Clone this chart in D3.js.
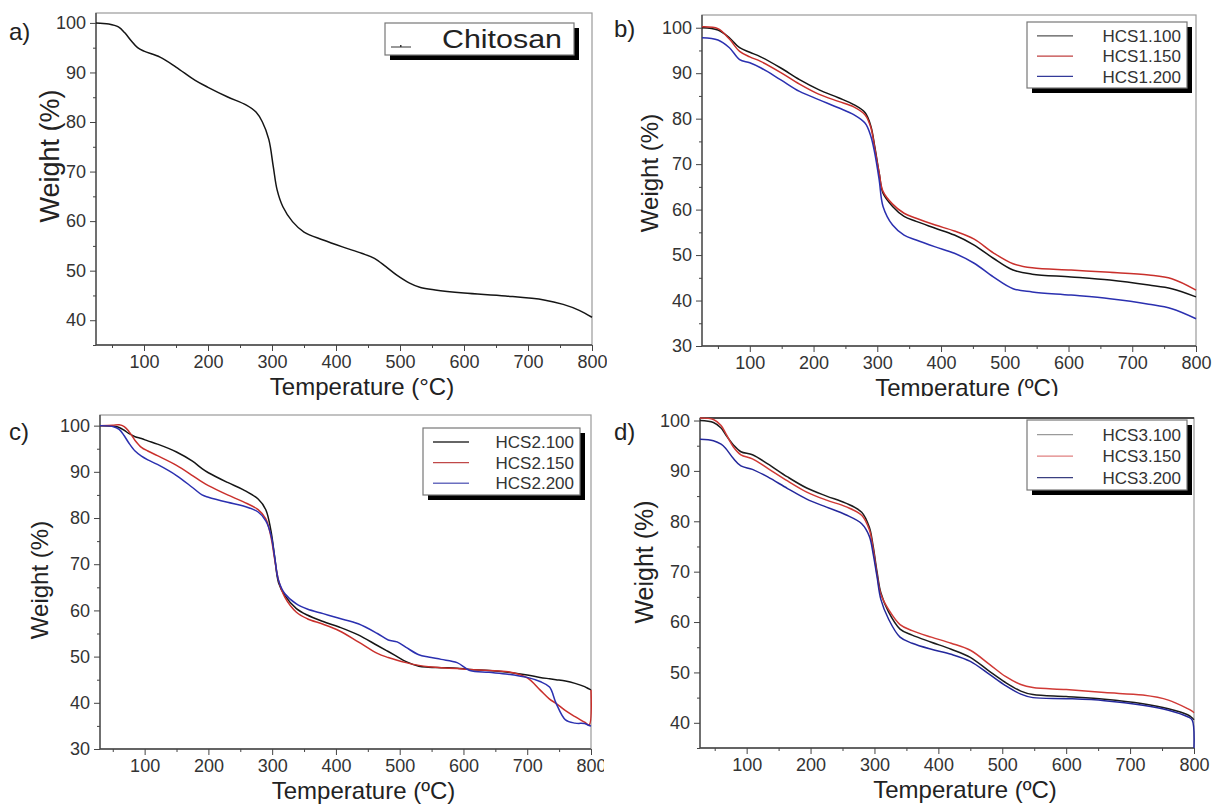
<!DOCTYPE html>
<html lang="en">
<head>
<meta charset="UTF-8">
<title>TGA curves</title>
<script src="https://d3js.org/d3.v7.min.js"></script>
<style>
  body { margin: 0; background: #fff; }
  text { font-family: "Liberation Sans", Arial, sans-serif; fill: #222; }
  .tick text { font-size: 18px; fill: #333; }
  .tick line { stroke: #444; }
</style>
</head>
<body>
<div id="chart"></div>
<script>
// ---- data ----
const xMajor = [100, 200, 300, 400, 500, 600, 700, 800];
const xMinor = [50, 150, 250, 350, 450, 550, 650, 750];

// a) chitosan
const tempA = [25, 45, 60, 70, 80, 90, 100, 125, 150, 180, 200, 230, 260, 275, 285, 295, 302, 308, 317, 332, 350, 380, 410, 440, 460, 478, 495, 515, 532, 555, 600, 665, 725, 755, 780, 800];
const chitosan = [100, 99.8, 99.2, 98.0, 96.4, 95.0, 94.3, 93.1, 91.1, 88.4, 87.0, 85.1, 83.4, 82.0, 80.0, 76.5, 71.0, 66.3, 62.9, 59.9, 57.8, 56.2, 54.8, 53.5, 52.5, 50.8, 49.1, 47.5, 46.6, 46.1, 45.5, 44.9, 44.1, 43.2, 42.0, 40.6];

// b) HCS1
const tempB = [25, 50, 68, 84, 100, 117, 148, 178, 208, 239, 263, 281, 290, 296, 303, 309, 324, 342, 361, 391, 421, 452, 482, 513, 543, 604, 665, 726, 762, 800];
const hcs1_100 = [100, 99.5, 97.8, 95.6, 94.6, 93.6, 91.2, 88.6, 86.4, 84.6, 83.1, 81.3, 78.3, 73.9, 68.0, 63.6, 60.7, 58.5, 57.4, 55.9, 54.4, 52.2, 49.3, 46.7, 45.8, 45.2, 44.5, 43.4, 42.6, 40.8];
const hcs1_150 = [100.2, 99.8, 97.5, 94.8, 93.6, 92.6, 90.2, 87.6, 85.4, 83.8, 82.6, 80.8, 78.0, 73.5, 68.0, 64.0, 61.2, 59.2, 58.1, 56.6, 55.3, 53.5, 50.5, 48.1, 47.2, 46.7, 46.2, 45.6, 44.8, 42.3];
const hcs1_200 = [97.8, 97.3, 95.6, 93.0, 92.3, 91.2, 88.6, 86.0, 84.2, 82.4, 80.9, 79.0, 76.1, 72.4, 66.5, 60.7, 56.6, 54.4, 53.3, 51.8, 50.4, 48.2, 45.2, 42.6, 41.9, 41.2, 40.4, 39.2, 38.2, 36.0];

// c) HCS2
const tempC = [30, 50, 60, 68, 75, 85, 95, 105, 120, 150, 175, 190, 200, 230, 255, 278, 290, 298, 304, 310, 320, 338, 355, 380, 405, 435, 465, 482, 496, 510, 530, 545, 565, 590, 610, 640, 670, 700, 720, 735, 745, 760, 775, 790, 797, 800];
const hcs2_100 = [100, 99.9, 99.6, 99.0, 98.3, 97.6, 97.2, 96.7, 96.0, 94.3, 92.3, 90.7, 89.8, 87.7, 86.1, 84.1, 81.8, 77.3, 71.5, 66.0, 63.2, 60.4, 59.0, 57.6, 56.4, 54.7, 52.4, 51.1, 50.0, 48.9, 47.9, 47.7, 47.6, 47.5, 47.2, 47.0, 46.6, 46.0, 45.5, 45.2, 45.0, 44.7, 44.2, 43.5, 43.0, 42.8];
const hcs2_150 = [100, 100.1, 100.2, 99.8, 98.8, 96.8, 95.3, 94.5, 93.5, 91.4, 89.2, 87.8, 87.0, 85.0, 83.5, 81.8, 79.8, 76.0, 71.0, 66.5, 62.8, 59.6, 58.2, 57.0, 55.6, 53.2, 50.7, 49.8, 49.2, 48.7, 48.1, 47.8, 47.6, 47.4, 47.2, 47.0, 46.7, 45.4, 42.8, 40.8, 39.9, 38.3, 37.0, 35.8, 35.2, 42.8];
const hcs2_200 = [100, 99.8, 99.2, 97.8, 96.3, 94.5, 93.4, 92.6, 91.6, 89.2, 86.6, 85.0, 84.5, 83.4, 82.6, 81.3, 79.4, 76.4, 71.5, 66.5, 63.6, 61.4, 60.3, 59.3, 58.3, 57.1, 55.0, 53.6, 53.2, 52.0, 50.4, 49.9, 49.4, 48.7, 47.0, 46.6, 46.2, 45.5, 44.6, 43.4, 40.0, 36.3, 35.6, 35.5, 35.1, 35.0];

// d) HCS3
const tempD = [27, 48, 60, 67, 79, 91, 109, 133, 164, 194, 225, 255, 280, 292, 298, 304, 310, 322, 340, 359, 389, 420, 450, 480, 505, 529, 548, 600, 660, 720, 760, 790, 797, 800];
const hcs3_100 = [100, 99.6, 98.5, 97.2, 95.2, 93.8, 93.2, 91.4, 88.8, 86.6, 85.0, 83.6, 81.8, 78.8, 75.0, 70.0, 65.8, 62.0, 58.6, 57.4, 56.0, 54.6, 53.0, 50.2, 48.0, 46.3, 45.6, 45.2, 44.7, 43.8, 42.8, 41.6, 41.0, 40.6];
const hcs3_150 = [100.5, 100.2, 99.0, 97.5, 94.8, 93.2, 92.4, 90.5, 88.0, 85.8, 84.2, 82.9, 81.2, 78.3, 74.5, 69.5, 65.5, 62.5, 59.5, 58.3, 57.0, 55.8, 54.4, 51.6, 49.2, 47.6, 47.0, 46.6, 46.0, 45.5, 44.5, 42.8, 42.3, 42.0];
const hcs3_200 = [96.3, 96.0, 95.3, 94.5, 92.5, 91.0, 90.3, 88.8, 86.5, 84.4, 82.8, 81.3, 79.5, 77.0, 73.5, 69.0, 64.5, 60.6, 57.0, 55.8, 54.6, 53.6, 52.2, 49.6, 47.4, 45.7, 45.0, 44.8, 44.4, 43.5, 42.5, 41.2, 40.6, 35.0];

const black = "#151515", red = "#c9302c", blue = "#2b30b0";

// ---- panel layout ----
const panels = [
  { id: "a", tag: "a)", tagPos: [9, 40], clip: [0, 0, 607, 402],
    left: 96, right: 592, top: 13, bottom: 345,
    xDomain: [25, 800], yDomain: [35, 102], yMajor: d3.range(40, 101, 10), yMinor: d3.range(35, 101, 5),
    xTitle: "Temperature (\u00B0C)", yTitle: "Weight (%)", yTitleSize: 27, yTitleY: 156, yTitleX: 50,
    temps: tempA,
    series: [{ name: "Chitosan", values: chitosan, color: black, key: "#333" }],
    legend: { x: 385, y: 23, w: 189, h: 32, big: true } },
  { id: "b", tag: "b)", tagPos: [614, 37], clip: [607, 0, 608, 396],
    left: 702, right: 1196, top: 15, bottom: 346,
    xDomain: [25, 800], yDomain: [30, 102.8], yMajor: d3.range(30, 101, 10), yMinor: d3.range(30, 101, 5),
    xTitle: "Temperature (\u00BAC)", yTitle: "Weight  (%)", yTitleSize: 24, yTitleY: 173, yTitleX: 650,
    temps: tempB,
    series: [
      { name: "HCS1.100", values: hcs1_100, color: black, key: "#555" },
      { name: "HCS1.150", values: hcs1_150, color: red, key: "#c04040" },
      { name: "HCS1.200", values: hcs1_200, color: blue, key: "#333a99" }],
    legend: { x: 1027, y: 22, w: 160, h: 66 } },
  { id: "c", tag: "c)", tagPos: [9, 440], clip: [0, 402, 604, 403],
    left: 100, right: 591, top: 415, bottom: 749,
    xDomain: [30, 800], yDomain: [30, 102.3], yMajor: d3.range(30, 101, 10), yMinor: d3.range(30, 101, 5),
    xTitle: "Temperature (\u00BAC)", yTitle: "Weight  (%)", yTitleSize: 24, yTitleY: 580, yTitleX: 40,
    temps: tempC,
    series: [
      { name: "HCS2.100", values: hcs2_100, color: black, key: "#333" },
      { name: "HCS2.150", values: hcs2_150, color: red, key: "#c04848" },
      { name: "HCS2.200", values: hcs2_200, color: blue, key: "#6b6fc0" }],
    legend: { x: 423, y: 428, w: 157, h: 67 } },
  { id: "d", tag: "d)", tagPos: [614, 440], clip: [605, 402, 610, 403],
    left: 700, right: 1194, top: 418, bottom: 748,
    xDomain: [27, 800], yDomain: [35, 100.5], yMajor: d3.range(40, 101, 10), yMinor: d3.range(35, 101, 5),
    xTitle: "Temperature (\u00BAC)", yTitle: "Weight (%)", yTitleSize: 25, yTitleY: 562, yTitleX: 644,
    temps: tempD, topDark: true,
    series: [
      { name: "HCS3.100", values: hcs3_100, color: "#1c1c1c", key: "#9a9a9a" },
      { name: "HCS3.150", values: hcs3_150, color: "#d03a36", key: "#e08080" },
      { name: "HCS3.200", values: hcs3_200, color: "#24289c", key: "#3a3f80" }],
    legend: { x: 1027, y: 420, w: 160, h: 70 } }
];

const svg = d3.select("#chart").append("svg")
    .attr("width", 1215)
    .attr("height", 805);

const defs = svg.append("defs");

panels.forEach(p => {
  defs.append("clipPath").attr("id", "clip-" + p.id)
    .append("rect")
      .attr("x", p.clip[0]).attr("y", p.clip[1])
      .attr("width", p.clip[2]).attr("height", p.clip[3]);

  const g = svg.append("g").attr("clip-path", `url(#clip-${p.id})`);

  const x = d3.scaleLinear().domain(p.xDomain).range([p.left, p.right]);
  const y = d3.scaleLinear().domain(p.yDomain).range([p.bottom, p.top]);

  // frame: light top/right, darker axes
  g.append("rect")
      .attr("x", p.left).attr("y", p.top)
      .attr("width", p.right - p.left).attr("height", p.bottom - p.top)
      .attr("fill", "none").attr("stroke", "#9a9a9a").attr("stroke-width", 1.2);
  if (p.topDark) {
    g.append("line").attr("x1", p.left).attr("x2", p.right).attr("y1", p.top).attr("y2", p.top)
      .attr("stroke", "#222").attr("stroke-width", 1.5);
  }

  // x axis
  const xa = g.append("g").attr("transform", `translate(0,${p.bottom})`)
      .call(d3.axisBottom(x).tickValues(xMajor).tickSizeInner(6).tickSizeOuter(0).tickPadding(4));
  xa.select(".domain").remove();
  const xm = g.append("g").attr("transform", `translate(0,${p.bottom})`)
      .call(d3.axisBottom(x).tickValues(xMinor.filter(v => v > p.xDomain[0])).tickSize(3).tickFormat(""));
  xm.select(".domain").remove();

  // y axis
  const ya = g.append("g").attr("transform", `translate(${p.left},0)`)
      .call(d3.axisLeft(y).tickValues(p.yMajor).tickSizeInner(6).tickSizeOuter(0).tickPadding(4));
  ya.select(".domain").remove();
  const ym = g.append("g").attr("transform", `translate(${p.left},0)`)
      .call(d3.axisLeft(y).tickValues(p.yMinor.filter(v => p.yMajor.indexOf(v) < 0)).tickSize(3).tickFormat(""));
  ym.select(".domain").remove();

  g.append("line").attr("x1", p.left).attr("x2", p.right).attr("y1", p.bottom).attr("y2", p.bottom)
    .attr("stroke", "#444").attr("stroke-width", 1.3);
  g.append("line").attr("x1", p.left).attr("x2", p.left).attr("y1", p.top).attr("y2", p.bottom)
    .attr("stroke", "#444").attr("stroke-width", 1.3);

  // titles
  g.append("text")
      .attr("x", (p.left + p.right) / 2 + 18)
      .attr("y", p.bottom + 50)
      .attr("text-anchor", "middle")
      .style("font-size", "24px")
      .text(p.xTitle);

  g.append("text")
      .attr("transform", `translate(${p.yTitleX},${p.yTitleY}) rotate(-90)`)
      .attr("text-anchor", "middle")
      .attr("dy", "0.35em")
      .style("font-size", p.yTitleSize + "px")
      .text(p.yTitle);

  g.append("text")
      .attr("x", p.tagPos[0]).attr("y", p.tagPos[1])
      .style("font-size", "24px")
      .text(p.tag);

  // curves
  const line = d3.line()
      .x(d => x(d[0]))
      .y(d => y(d[1]))
      .curve(d3.curveCatmullRom.alpha(0.5));

  g.selectAll(".curve")
    .data(p.series)
    .enter().append("path")
      .attr("class", "curve")
      .attr("fill", "none")
      .attr("stroke", d => d.color)
      .attr("stroke-width", 1.5)
      .attr("stroke-linejoin", "round")
      .attr("d", d => line(p.temps.map((t, i) => [t, d.values[i]])));

  // legend
  const L = p.legend;
  g.append("rect").attr("x", L.x + 5).attr("y", L.y + 5).attr("width", L.w).attr("height", L.h).attr("fill", "#000");
  g.append("rect").attr("x", L.x).attr("y", L.y).attr("width", L.w).attr("height", L.h)
    .attr("fill", "#fff").attr("stroke", "#777").attr("stroke-width", 1.2);

  if (L.big) {
    const s = p.series[0];
    g.append("line").attr("x1", L.x + 6).attr("x2", L.x + 26).attr("y1", L.y + 24).attr("y2", L.y + 24)
      .attr("stroke", s.key).attr("stroke-width", 1);
    g.append("rect").attr("x", L.x + 15).attr("y", L.y + 22).attr("width", 1.5).attr("height", 2).attr("fill", s.key);
    g.append("text").attr("x", L.x + 57).attr("y", L.y + 25)
      .style("font-size", "26px")
      .attr("textLength", 120).attr("lengthAdjust", "spacingAndGlyphs")
      .text(s.name);
  } else {
    const rowH = L.h / 3.25;
    p.series.forEach((s, i) => {
      const cy = L.y + rowH * (i + 0.68);
      g.append("line").attr("x1", L.x + 10).attr("x2", L.x + 46).attr("y1", cy).attr("y2", cy)
        .attr("stroke", s.key).attr("stroke-width", 1.3);
      g.append("text").attr("x", L.x + L.w - 6).attr("y", cy).attr("dy", "0.36em")
        .attr("text-anchor", "end")
        .style("font-size", "17px").style("fill", "#333")
        .text(s.name);
    });
  }
});
</script>
</body>
</html>
